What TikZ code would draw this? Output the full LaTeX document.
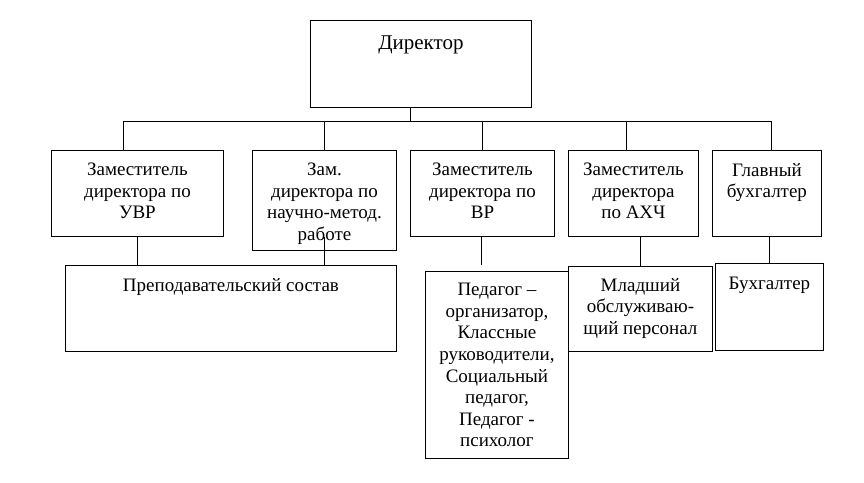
\documentclass[tikz,border=0pt]{standalone}
\usepackage{fontspec}
\setmainfont{Liberation Serif}
\usepackage{xcolor}
\usepackage{tikz}
\usetikzlibrary{calc}
\definecolor{bg}{HTML}{FFFFFF}
\definecolor{ink}{HTML}{000000}
\tikzset{
  box/.style={draw=ink, line width=0.9pt, anchor=north west, inner sep=0pt},
  txt/.style={text=ink, align=center, inner sep=0pt, anchor=north,
    font=\fontsize{19}{21.6}\selectfont},
  big/.style={font=\fontsize{21}{24}\selectfont},
  link/.style={draw=ink, line width=0.9pt},
}
\begin{document}
\begin{tikzpicture}[x=1pt, y=-1pt]
  \fill[bg] (0,0) rectangle (864,482);
  \useasboundingbox (0,0) rectangle (864,482);
  % top level
  \node[box, minimum width=221pt, minimum height=87pt] (dir) at (310,20) {};
  \node[txt, big] (dirT) at ([yshift=-16pt]dir.north) {Директор};
  % deputies
  \node[box, minimum width=172pt, minimum height=86pt] (uvr) at (51,150) {};
  \node[box, minimum width=144pt, minimum height=100pt] (nmr) at (252,150) {};
  \node[box, minimum width=144pt, minimum height=86pt] (vr) at (410,150) {};
  \node[box, minimum width=130pt, minimum height=86pt] (ahch) at (568,150) {};
  \node[box, minimum width=109pt, minimum height=86pt] (glb) at (712,150) {};
  \node[txt] (uvrT) at ([yshift=-13pt]uvr.north) {Заместитель\\директора по\\УВР};
  \node[txt] (nmrT) at ([yshift=-13pt]nmr.north) {Зам.\\директора по\\научно-метод.\\работе};
  \node[txt] (vrT) at ([yshift=-13pt]vr.north) {Заместитель\\директора по\\ВР};
  \node[txt] (ahchT) at ([yshift=-13pt]ahch.north) {Заместитель\\директора\\по АХЧ};
  \node[txt] (glbT) at ([yshift=-13pt]glb.north) {Главный\\бухгалтер};
  % staff
  \node[box, minimum width=331pt, minimum height=86pt] (prep) at (65,265) {};
  \node[box, minimum width=143pt, minimum height=187pt] (ped) at (425,271) {};
  \node[box, minimum width=144pt, minimum height=85pt] (mlad) at (568,266) {};
  \node[box, minimum width=108pt, minimum height=87pt] (buh) at (715,263) {};
  \node[txt] (prepT) at ([yshift=-13pt]prep.north) {Преподавательский состав};
  \node[txt] (pedT) at ([yshift=-12pt]ped.north) {Педагог –\\организатор,\\Классные\\руководители,\\Социальный\\педагог,\\Педагог -\\психолог};
  \node[txt] (mladT) at ([yshift=-12pt]mlad.north) {Младший\\обслуживаю-\\щий персонал};
  \node[txt] (buhT) at ([yshift=-14pt]buh.north) {Бухгалтер};
  % bus
  \coordinate (bus) at (410,121);
  \draw[link] (bus |- dir.south) -- (bus);
  \draw[link] ([xshift=-14pt]uvr.north |- bus) -- ([xshift=4pt]glb.north |- bus);
  \foreach \b/\d in {uvr/-14, nmr/0, vr/0, ahch/-7, glb/4}
    \draw[link] ([xshift=\d pt]\b.north) -- ([xshift=\d pt]\b.north |- bus);
  % down links
  \draw[link] (uvr.south) -- (uvr.south |- prep.north);
  \draw[link, shorten <=-14pt] (nmr.south) -- (nmr.south |- prep.north);
  \draw[link, shorten >=6pt] ([xshift=-1pt]vr.south) -- ([xshift=-1pt]vr.south |- ped.north);
  \draw[link] (mlad.north |- ahch.south) -- (mlad.north);
  \draw[link] (buh.north |- glb.south) -- (buh.north);
\end{tikzpicture}
\end{document}
